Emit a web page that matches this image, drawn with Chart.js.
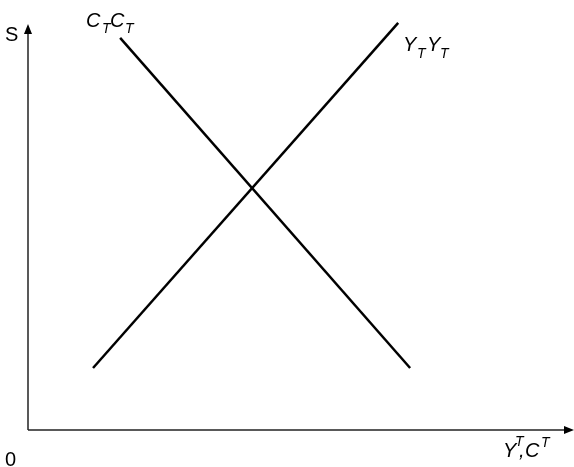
<!DOCTYPE html>
<html>
<head>
<meta charset="utf-8">
<script src="https://cdn.jsdelivr.net/npm/chart.js@4"></script>
<style>
   body { margin: 0; background: #fff; }
   #wrap { width: 574px; height: 467px; }
</style>
</head>
<body>
<div id="wrap"><canvas id="chart" width="574" height="467"></canvas></div>
<script>
// curve endpoints in axis units (0..100 on both axes)
const yyX = [12, 68.3];
const yyY = [15.2, 99.8];
const ccX = [17, 70.5];
const ccY = [96.1, 15.2];

const axisMin = 0;
const axisMax = 100;

function toPoints(xs, ys) {
   return xs.map((x, i) => ({ x: x, y: ys[i] }));
}

// draws a label made of pieces: [text, x, baselineY, size, upright]
function drawPieces(ctx, pieces) {
   pieces.forEach((p) => {
      ctx.font = (p[4] ? "" : "italic ") + p[3] + "px 'Liberation Sans', Arial, sans-serif";
      ctx.fillText(p[0], p[1], p[2]);
   });
}

const axesPlugin = {
   id: "axesPlugin",
   afterDraw(chart) {
      const ctx = chart.ctx;
      const xs = chart.scales.x;
      const ys = chart.scales.y;
      const ox = xs.getPixelForValue(axisMin);
      const oy = ys.getPixelForValue(axisMin);

      ctx.save();
      ctx.strokeStyle = "#222";
      ctx.fillStyle = "#000";
      ctx.lineWidth = 1.5;

      // y axis
      ctx.beginPath();
      ctx.moveTo(ox, oy);
      ctx.lineTo(ox, 30);
      ctx.stroke();
      ctx.beginPath();
      ctx.moveTo(ox, 24);
      ctx.lineTo(ox - 4, 34);
      ctx.lineTo(ox + 4, 34);
      ctx.closePath();
      ctx.fill();

      // x axis
      ctx.beginPath();
      ctx.moveTo(ox, oy);
      ctx.lineTo(567, oy);
      ctx.stroke();
      ctx.beginPath();
      ctx.moveTo(574, oy);
      ctx.lineTo(564, oy - 4);
      ctx.lineTo(564, oy + 4);
      ctx.closePath();
      ctx.fill();

      ctx.textBaseline = "alphabetic";
      drawPieces(ctx, [["S", 5, 41, 20, true]]);
      drawPieces(ctx, [["0", 5, 466, 20, true]]);

      // C_T C_T
      drawPieces(ctx, [
         ["C", 86, 27, 20],
         ["T", 102, 33, 14],
         ["C", 110, 27, 20],
         ["T", 125, 33, 14],
      ]);
      // Y_T Y_T
      drawPieces(ctx, [
         ["Y", 403, 51, 20],
         ["T", 417, 58, 14],
         ["Y", 427, 51, 20],
         ["T", 440, 58, 14],
      ]);
      // Y^T, C^T
      drawPieces(ctx, [
         ["Y", 503, 457, 20],
         ["T", 515, 446, 14],
         [",", 519, 457, 20],
         ["C", 525, 457, 20],
         ["T", 541, 447, 14],
      ]);
      ctx.restore();
   },
};

new Chart(document.getElementById("chart").getContext("2d"), {
   type: "scatter",
   data: {
      datasets: [
         {
            label: "YTYT",
            data: toPoints(yyX, yyY),
            showLine: true,
            borderColor: "#000",
            borderWidth: 2.5,
            pointRadius: 0,
         },
         {
            label: "CTCT",
            data: toPoints(ccX, ccY),
            showLine: true,
            borderColor: "#000",
            borderWidth: 2.5,
            pointRadius: 0,
         },
      ],
   },
   options: {
      responsive: false,
      animation: false,
      devicePixelRatio: 1,
      layout: { padding: { left: 28, right: 4, top: 22, bottom: 37 } },
      scales: {
         x: { type: "linear", min: axisMin, max: axisMax, display: false },
         y: { type: "linear", min: axisMin, max: axisMax, display: false },
      },
      plugins: {
         legend: { display: false },
         tooltip: { enabled: false },
      },
   },
   plugins: [axesPlugin],
});
</script>
</body>
</html>
